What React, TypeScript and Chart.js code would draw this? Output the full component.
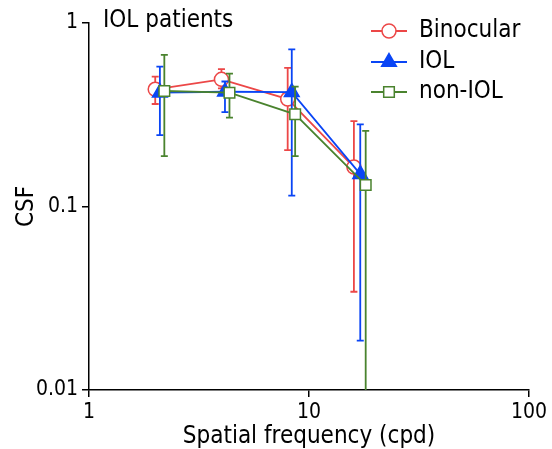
import React, { useEffect, useRef } from "react";
import { Chart, registerables } from "chart.js";

Chart.register(...registerables);

const FONT = "'DejaVu Sans Condensed', 'Liberation Sans Narrow', 'Liberation Sans', sans-serif";

const titleText = "IOL patients";
const xTitle = "Spatial frequency (cpd)";
const yTitle = "CSF";
const xTicks = [1, 10, 100];
const yTicks = [0.01, 0.1, 1];

const seriesNames = ["Binocular", "IOL", "non-IOL"];
const seriesColors = ["#EC4747", "#0A45F5", "#4A832E"];

const binocX = [2, 4, 8, 16];
const binocY = [0.435, 0.493, 0.385, 0.164];
const binocHi = [0.51, 0.56, 0.57, 0.292];
const binocLo = [0.362, 0.44, 0.203, 0.0343];

const iolX = [2.1, 4.15, 8.35, 17.1];
const iolY = [0.417, 0.422, 0.42, 0.15];
const iolHi = [0.578, 0.48, 0.719, 0.28];
const iolLo = [0.245, 0.327, 0.1146, 0.0186];

const nonX = [2.2, 4.35, 8.65, 18.1];
const nonY = [0.426, 0.417, 0.318, 0.131];
const nonHi = [0.67, 0.53, 0.45, 0.258];
const nonLo = [0.188, 0.305, 0.188, 0.005];

const errHi = [binocHi, iolHi, nonHi];
const errLo = [binocLo, iolLo, nonLo];

const toPoints = (xs: number[], ys: number[]) => xs.map((x, i) => ({ x, y: ys[i] }));

const errorBarPlugin = {
  id: "errorBars",
  beforeDatasetDraw(chart: any, args: any) {
    const i = args.index;
    const hi = errHi[i];
    const lo = errLo[i];
    if (!hi) return;
    const ctx = chart.ctx;
    const xs = chart.scales.x;
    const ys = chart.scales.y;
    const area = chart.chartArea;
    const ds = chart.data.datasets[i];
    ctx.save();
    ctx.beginPath();
    ctx.rect(area.left, area.top - 10, area.right - area.left, area.bottom - area.top + 10);
    ctx.clip();
    ctx.strokeStyle = ds.borderColor;
    ctx.lineWidth = 1.8;
    const cap = 3.5;
    ds.data.forEach((p: any, j: number) => {
      const px = xs.getPixelForValue(p.x);
      const yTop = ys.getPixelForValue(hi[j]);
      const yBot = ys.getPixelForValue(lo[j]);
      ctx.beginPath();
      ctx.moveTo(px, yTop);
      ctx.lineTo(px, yBot);
      ctx.moveTo(px - cap, yTop);
      ctx.lineTo(px + cap, yTop);
      if (yBot <= area.bottom) {
        ctx.moveTo(px - cap, yBot);
        ctx.lineTo(px + cap, yBot);
      }
      ctx.stroke();
    });
    ctx.restore();
  },
};

function drawMarker(ctx: any, style: string, x: number, y: number, r: number, stroke: string, fill: string) {
  ctx.beginPath();
  if (style === "circle") {
    ctx.arc(x, y, r, 0, Math.PI * 2);
  } else if (style === "triangle") {
    ctx.moveTo(x, y - r);
    ctx.lineTo(x + r * Math.sin(Math.PI / 3), y + r * 0.5);
    ctx.lineTo(x - r * Math.sin(Math.PI / 3), y + r * 0.5);
    ctx.closePath();
  } else {
    const s = r * Math.SQRT1_2;
    ctx.rect(x - s, y - s, 2 * s, 2 * s);
  }
  ctx.fillStyle = fill;
  ctx.fill();
  ctx.strokeStyle = stroke;
  ctx.lineWidth = 1.5;
  ctx.stroke();
}

const decorPlugin = {
  id: "decor",
  afterDraw(chart: any) {
    const ctx = chart.ctx;
    ctx.save();
    ctx.fillStyle = "#000";
    ctx.font = `24px ${FONT}`;
    ctx.textBaseline = "middle";
    ctx.textAlign = "left";
    ctx.fillText(titleText, 103, 21);

    const rows = [31, 62, 92];
    const styles = ["circle", "triangle", "rect"];
    const radii = [7, 8.5, 7.5];
    chart.data.datasets
      .slice()
      .sort((a: any, b: any) => a.legendIndex - b.legendIndex)
      .forEach((ds: any, k: number) => {
        const y = rows[k];
        ctx.strokeStyle = ds.borderColor;
        ctx.lineWidth = 1.8;
        ctx.beginPath();
        ctx.moveTo(371, y);
        ctx.lineTo(407, y);
        ctx.stroke();
        drawMarker(ctx, styles[k], 389, y, radii[k], ds.borderColor, ds.pointBackgroundColor);
        ctx.fillStyle = "#000";
        ctx.font = `24px ${FONT}`;
        ctx.textAlign = "left";
        ctx.textBaseline = "middle";
        ctx.fillText(ds.label, 419, y);
      });
    ctx.restore();
  },
};

export default function App() {
  const ref = useRef<HTMLCanvasElement | null>(null);
  useEffect(() => {
    if (!ref.current) return;
    const chart = new Chart(ref.current, {
      type: "line",
      data: {
        datasets: [
          {
            label: seriesNames[0],
            data: toPoints(binocX, binocY),
            borderColor: seriesColors[0],
            backgroundColor: "#fff",
            pointBackgroundColor: "#fff",
            pointBorderColor: seriesColors[0],
            pointStyle: "circle",
            pointRadius: 7,
            pointBorderWidth: 1.5,
            borderWidth: 1.8,
            order: 2,
            legendIndex: 0,
          } as any,
          {
            label: seriesNames[1],
            data: toPoints(iolX, iolY),
            borderColor: seriesColors[1],
            backgroundColor: seriesColors[1],
            pointBackgroundColor: seriesColors[1],
            pointBorderColor: seriesColors[1],
            pointStyle: "triangle",
            pointRadius: 8.5,
            pointBorderWidth: 1.5,
            borderWidth: 1.8,
            order: 1,
            legendIndex: 1,
          } as any,
          {
            label: seriesNames[2],
            data: toPoints(nonX, nonY),
            borderColor: seriesColors[2],
            backgroundColor: "#fff",
            pointBackgroundColor: "#fff",
            pointBorderColor: seriesColors[2],
            pointStyle: "rect",
            pointRadius: 7.5,
            pointBorderWidth: 1.5,
            borderWidth: 1.8,
            order: 0,
            legendIndex: 2,
          } as any,
        ],
      },
      options: {
        responsive: false,
        animation: false,
        layout: { padding: { left: 0, right: 23, top: 23, bottom: 0 } },
        plugins: {
          legend: { display: false },
          tooltip: { enabled: false },
        },
        scales: {
          x: {
            type: "logarithmic",
            min: 1,
            max: 100,
            afterBuildTicks: (s: any) => {
              s.ticks = xTicks.map((v) => ({ value: v }));
            },
            afterFit: (s: any) => {
              s.height = 59;
            },
            ticks: {
              callback: (v: any) => String(v),
              color: "#000",
              font: { family: FONT, size: 21 },
              padding: 3,
              maxRotation: 0,
              autoSkip: false,
            },
            grid: {
              drawOnChartArea: false,
              drawTicks: true,
              tickLength: 7,
              color: "#000",
              lineWidth: 1.5,
            },
            border: { display: true, color: "#000", width: 1.5 },
            title: {
              display: true,
              text: xTitle,
              color: "#000",
              font: { family: FONT, size: 24, lineHeight: 1 },
              padding: { top: 0, bottom: 0 },
            },
          },
          y: {
            type: "logarithmic",
            min: 0.01,
            max: 1,
            afterBuildTicks: (s: any) => {
              s.ticks = yTicks.map((v) => ({ value: v }));
            },
            afterFit: (s: any) => {
              s.width = 89;
            },
            ticks: {
              callback: (v: any) => String(v),
              color: "#000",
              font: { family: FONT, size: 21 },
              padding: 4,
              autoSkip: false,
            },
            grid: {
              drawOnChartArea: false,
              drawTicks: true,
              tickLength: 7,
              color: "#000",
              lineWidth: 1.5,
            },
            border: { display: true, color: "#000", width: 1.5 },
            title: {
              display: true,
              text: yTitle,
              color: "#000",
              font: { family: FONT, size: 24, lineHeight: 1 },
              padding: { top: 15, bottom: 0 },
            },
          },
        },
      },
      plugins: [errorBarPlugin, decorPlugin],
    });
    return () => chart.destroy();
  }, []);
  return (
    <div style={{ position: "absolute", left: 0, top: 0, width: 552, height: 449, background: "#fff" }}>
      <canvas ref={ref} width={552} height={449} style={{ width: 552, height: 449 }} />
    </div>
  );
}
